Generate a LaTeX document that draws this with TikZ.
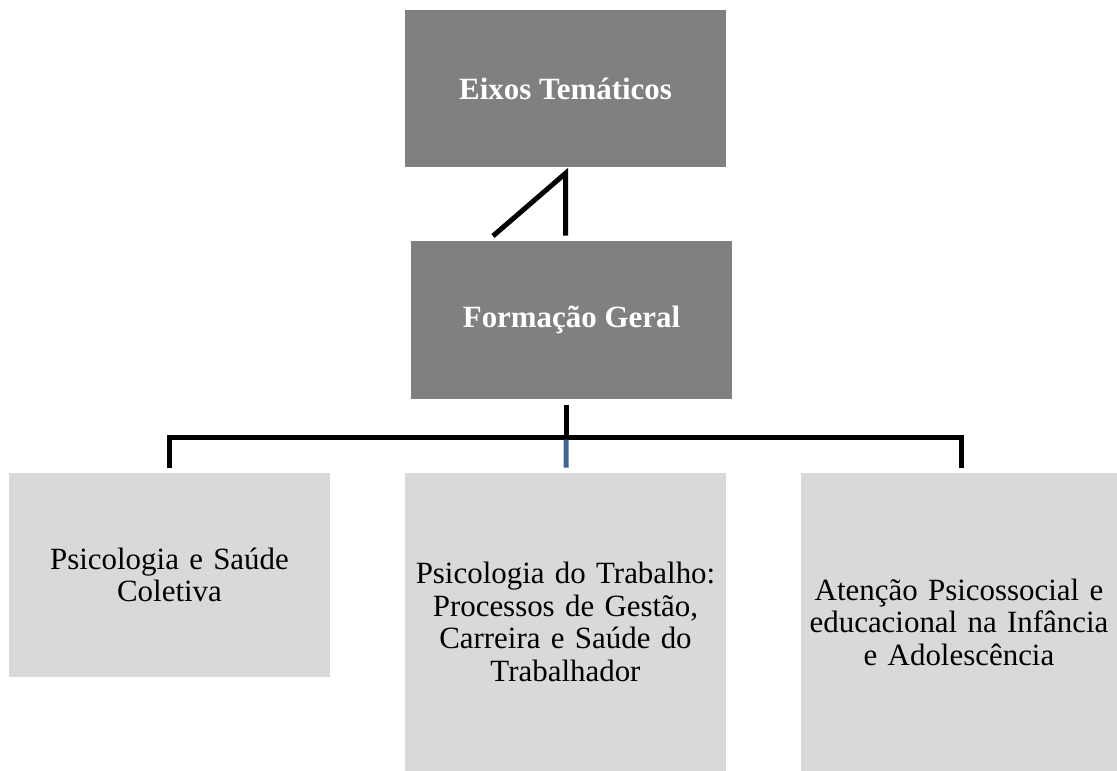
\documentclass[tikz,border=0pt]{standalone}
\usepackage{fontspec}
\setmainfont{Liberation Serif}
\usetikzlibrary{calc}

\definecolor{darkbox}{HTML}{808080}
\definecolor{lightbox}{HTML}{D9D9D9}
\definecolor{midline}{HTML}{3C6496}

\tikzset{
    topbox/.style={fill=darkbox, text=white, font=\fontsize{17.6}{18.5}\selectfont\bfseries,
        minimum width=6.42cm, minimum height=3.14cm, inner sep=0pt, align=center},
    axisbox/.style={fill=lightbox, text=black, font=\fontsize{17.6}{18.5}\selectfont,
        inner sep=0pt, align=center, text width=6.2cm},
    conn/.style={line width=0.1cm, black, line join=miter},
}

\begin{document}
\begin{tikzpicture}[x=0.02cm, y=-0.02cm]

    % Canvas
    \useasboundingbox (0,0) rectangle (1117,771);

    % Top boxes
    \node[topbox] (eixos) at (565.5, 88.5) {Eixos Temáticos};
    \node[topbox, minimum height=3.16cm] (geral) at (571.5, 320) {Formação Geral};

    % Axis boxes
    \node[axisbox, minimum width=6.42cm, minimum height=4.08cm] (saude) at (169.5, 575)
        {Psicologia e Saúde\\Coletiva};
    \node[axisbox, minimum width=6.42cm, minimum height=5.96cm] (trabalho) at (565.5, 622)
        {Psicologia do Trabalho:\\Processos de Gestão,\\Carreira e Saúde do\\Trabalhador};
    \node[axisbox, minimum width=6.32cm, minimum height=5.96cm] (infancia) at (959, 622)
        {Atenção Psicossocial e\\educacional na Infância\\e Adolescência};

    % Connector between the top boxes
    \coordinate (apex) at ($(eixos.south)+(0,6)$);
    \coordinate (foot) at (493, 236);
    \draw[conn] (foot) -- (apex) -- (apex |- {$(geral.north)+(0,-5)$});

    % Tree below
    \coordinate (bus) at (566, 437);
    \draw[conn] ($(geral.south)+(-5.5,6)$) -- (bus);
    \draw[conn] ($(saude.north)+(0,-5)$) |- (bus) -| ($(infancia.north)+(2,-5)$);
    \draw[line width=0.1cm, midline] ($(bus)+(0,2.5)$) -- ($(trabalho.north)+(0.5,-5)$);

\end{tikzpicture}
\end{document}
